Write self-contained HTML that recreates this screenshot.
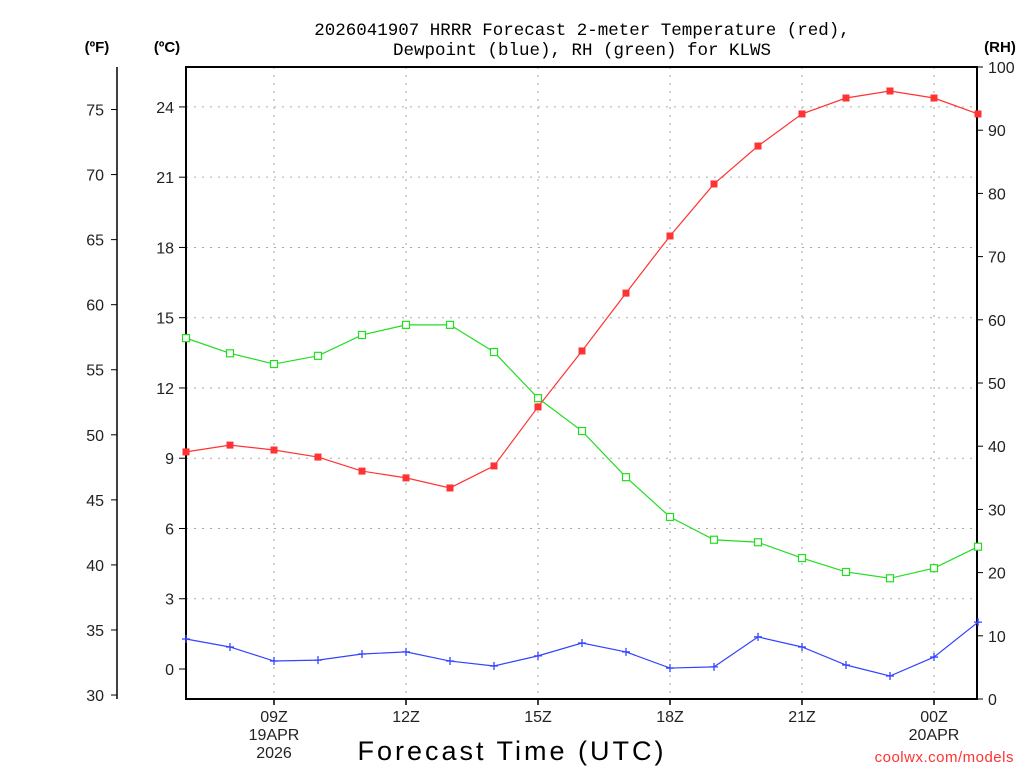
<!DOCTYPE html>
<html><head><meta charset="utf-8"><style>
body{margin:0;background:#fff;}
svg text{font-family:"Liberation Sans","DejaVu Sans",sans-serif;}
</style></head><body>
<svg id="chart" width="1024" height="768" xmlns="http://www.w3.org/2000/svg">
<g id="grid"></g>
<g id="axes"></g>
<g id="series"></g>
<text x="582" y="35" font-size="17.5" text-anchor="middle" style="font-family:'Liberation Mono',monospace">2026041907 HRRR Forecast 2-meter Temperature (red),</text>
<text x="582" y="55" font-size="17.5" text-anchor="middle" style="font-family:'Liberation Mono',monospace">Dewpoint (blue), RH (green) for KLWS</text>
<text x="97" y="52" font-size="15" font-weight="bold" text-anchor="middle">(ºF)</text>
<text x="167" y="52" font-size="15" font-weight="bold" text-anchor="middle">(ºC)</text>
<text x="1000" y="52" font-size="15" font-weight="bold" text-anchor="middle">(RH)</text>
<text x="512" y="760" font-size="27" text-anchor="middle" letter-spacing="3">Forecast Time (UTC)</text>
<text x="1014" y="762" font-size="15" fill="#ff3333" text-anchor="end" letter-spacing="0.5">coolwx.com/models</text>
</svg>
<script>
const hours=[7,8,9,10,11,12,13,14,15,16,17,18,19,20,21,22,23,24,25];
const tempC=[9.27,9.56,9.35,9.05,8.45,8.16,7.73,8.67,11.19,13.58,16.05,18.49,20.71,22.33,23.70,24.38,24.68,24.38,23.70];
const dewC=[1.28,0.94,0.34,0.38,0.64,0.73,0.34,0.13,0.56,1.11,0.73,0.04,0.09,1.37,0.94,0.17,-0.30,0.51,2.0];
const rh=[57.1,54.7,53.0,54.3,57.6,59.2,59.2,54.9,47.6,42.4,35.1,28.8,25.2,24.8,22.3,20.1,19.1,20.7,24.1];
const cTicks=[0,3,6,9,12,15,18,21,24];
const fTicks=[30,35,40,45,50,55,60,65,70,75];
const rhTicks=[0,10,20,30,40,50,60,70,80,90,100];
const xTickHours=[9,12,15,18,21,24];
const xTickLabels=["09Z","12Z","15Z","18Z","21Z","00Z"];
const xSub={9:["19APR","2026"],24:["20APR"]};
const L=186,R=977,T=67,B=699;
const X=h=>L+(h-7)*44;
const YC=c=>669-c*23.42;
const YF=f=>YC((f-32)/1.8);
const YR=r=>B-r*(B-T)/100;
const NS="http://www.w3.org/2000/svg";
function mk(tag,parent,attrs){const e=document.createElementNS(NS,tag);for(const k in attrs)e.setAttribute(k,attrs[k]);parent.appendChild(e);return e;}
const grid=document.getElementById('grid'),axes=document.getElementById('axes'),series=document.getElementById('series');
xTickHours.forEach((h,i)=>{
 const g=mk('line',grid,{x1:X(h),x2:X(h),y1:T,y2:B,stroke:'#aaa','stroke-dasharray':'2,6'});
 
 
 const t=mk('line',axes,{x1:X(h),x2:X(h),y1:B,y2:B+6,stroke:'#000','stroke-width':1.5});
 
 
 const lines=[xTickLabels[i]].concat(xSub[h]||[]);
 lines.forEach((s,j)=>{const tx=mk('text',axes,{x:X(h),y:722+j*18,'font-size':16,'text-anchor':'middle',fill:'#222'});tx.textContent=s;
 
 });
});
cTicks.forEach(c=>{
 if(c>0){const g=mk('line',grid,{x1:L,x2:R,y1:YC(c),y2:YC(c),stroke:'#aaa','stroke-dasharray':'2,6'});
 
 }
 const t=mk('line',axes,{x1:L-7,x2:L,y1:YC(c),y2:YC(c),stroke:'#000'});
 
 
 const tx=mk('text',axes,{x:L-12,y:YC(c)+6,'font-size':16,'text-anchor':'end',fill:'#222'});tx.textContent=c;
 
 
});
const fl=mk('line',axes,{x1:117,x2:117,y1:T,y2:B,stroke:'#000','stroke-width':1.5});


fTicks.forEach(f=>{
 const t=mk('line',axes,{x1:111,x2:117,y1:YF(f),y2:YF(f),stroke:'#000'});
 
 
 const tx=mk('text',axes,{x:104,y:YF(f)+6,'font-size':16,'text-anchor':'end',fill:'#222'});tx.textContent=f;
 
 
});
rhTicks.forEach(r=>{
 const t=mk('line',axes,{x1:R,x2:R+6,y1:YR(r),y2:YR(r),stroke:'#000'});
 
 
 const tx=mk('text',axes,{x:988,y:YR(r)+6,'font-size':16,'text-anchor':'start',fill:'#222'});tx.textContent=r;
 
 
});
const fr=mk('rect',axes,{x:L,y:T,width:R-L,height:B-T,fill:'none',stroke:'#000','stroke-width':2});


function drawLine(vals,yf,color,name,marker){
 const pts=vals.map((v,i)=>X(hours[i])+','+yf(v)).join(' ');
 const pl=mk('polyline',series,{points:pts,fill:'none',stroke:color,'stroke-width':1.2});
 
 
 vals.forEach((v,i)=>{
  const x=X(hours[i]),y=yf(v);let m;
  if(marker==='fill')m=mk('rect',series,{x:x-3.5,y:y-3.5,width:7,height:7,fill:color});
  else if(marker==='open')m=mk('rect',series,{x:x-3.5,y:y-3.5,width:7,height:7,fill:'#fff',stroke:color,'stroke-width':1.2});
  else m=mk('path',series,{d:`M${x-4} ${y}H${x+4}M${x} ${y-4}V${y+4}`,stroke:color,'stroke-width':1.3});
  
  
 });
}
drawLine(rh,YR,'#22dd22','rh','open');
drawLine(tempC,YC,'#ff3333','temperature','fill');
drawLine(dewC,YC,'#3344ff','dewpoint','plus');
</script>
</body></html>
